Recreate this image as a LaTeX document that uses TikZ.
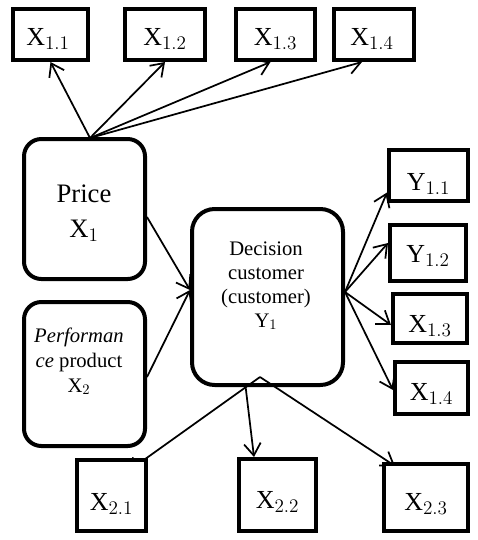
\documentclass[tikz,border=0pt]{standalone}
\usepackage{fontspec}
\setmainfont{Liberation Serif}
\usetikzlibrary{arrows.meta,calc}
\pgfdeclarelayer{background}
\pgfsetlayers{background,main}
\newcommand\mylines[2]{\vtop{\baselineskip=#1\lineskiplimit=-10pt\halign{\hfil##\hfil\cr#2\crcr}}}
\begin{document}
\begin{tikzpicture}[x=0.75pt,y=-0.75pt,
  sqbox/.style={draw,line width=3pt,inner sep=0pt,fill=white},
  rbox/.style={draw,line width=3pt,inner sep=0pt,rounded corners=13pt},
  lab/.style={anchor=base,inner sep=0pt,font=\fontsize{19.5}{22}\selectfont},
  arr/.style={line width=1.3pt,-{Straight Barb[length=9pt,width=12.5pt,line width=1.3pt]}}]
\useasboundingbox (0,0) rectangle (478,540);
% top boxes
\node[sqbox,minimum width=56.25pt,minimum height=38.25pt] (x11) at (50.5,34.5) {};
\node[sqbox,minimum width=60pt,minimum height=38.25pt] (x12) at (165,34.5) {};
\node[sqbox,minimum width=59.25pt,minimum height=38.25pt] (x13) at (275.5,34.5) {};
\node[sqbox,minimum width=60pt,minimum height=38.25pt] (x14) at (374,34.5) {};
\node[lab] (t11) at (48,45) {$\mathrm{X}_{1.1}$};
\node[lab] (t12) at (165,45) {$\mathrm{X}_{1.2}$};
\node[lab] (t13) at (275.5,45) {$\mathrm{X}_{1.3}$};
\node[lab] (t14) at (372,45) {$\mathrm{X}_{1.4}$};
% left rounded boxes
\node[rbox,minimum width=90.75pt,minimum height=105pt] (price) at (84.5,209) {};
\node[rbox,minimum width=90.75pt,minimum height=108pt] (perf) at (84.5,374) {};
\node[anchor=base,inner sep=0pt,font=\fontsize{20}{26}\selectfont] (pricet) at (84,202)
  {\mylines{26.25pt}{Price\cr$\mathrm{X}_{1}$}};
\node[anchor=base,inner sep=0pt,font=\fontsize{15.5}{18}\selectfont] (perft) at (79,342)
  {\mylines{18.75pt}{\textit{Performan}\cr\textit{ce} product\cr$\mathrm{X}_{2}$}};
% decision box
\node[rbox,rounded corners=17pt,minimum width=113.25pt,minimum height=132pt] (dec) at (267.5,297) {};
\node[anchor=base,inner sep=0pt,font=\fontsize{15.5}{18}\selectfont] (dect) at (266,255)
  {\mylines{18pt}{Decision\cr customer\cr (customer)\cr $\mathrm{Y}_{1}$}};
% right boxes
\node[sqbox,minimum width=59.25pt,minimum height=38.25pt] (y11) at (428.5,175.5) {};
\node[sqbox,minimum width=57pt,minimum height=42pt] (y12) at (428,253) {};
\node[sqbox,minimum width=55.5pt,minimum height=36.75pt] (x13r) at (430,318.5) {};
\node[sqbox,minimum width=54.75pt,minimum height=39pt] (x14r) at (431.5,388) {};
\node[lab] (ty11) at (428.5,190) {$\mathrm{Y}_{1.1}$};
\node[lab] (ty12) at (428,262) {$\mathrm{Y}_{1.2}$};
\node[lab] (tx13r) at (430,332) {$\mathrm{X}_{1.3}$};
\node[lab] (tx14r) at (431.5,400) {$\mathrm{X}_{1.4}$};
% bottom boxes
\node[sqbox,minimum width=51.75pt,minimum height=53.25pt] (x21) at (111.5,495.5) {};
\node[sqbox,minimum width=57.75pt,minimum height=54pt] (x22) at (277.5,495) {};
\node[sqbox,minimum width=63pt,minimum height=50.25pt] (x23) at (426,497.5) {};
\node[lab] (t21) at (111.5,510) {$\mathrm{X}_{2.1}$};
\node[lab] (t22) at (277.5,508) {$\mathrm{X}_{2.2}$};
\node[lab] (t23) at (426,510) {$\mathrm{X}_{2.3}$};
% connector points
\coordinate (ptop) at ($(price.north)+(5.5,1)$);
\coordinate (dright) at ($(dec.east)+(0,-5)$);
\coordinate (peak) at ($(dec.south)+(-7.5,-10)$);
\begin{pgfonlayer}{background}
\draw[arr] (ptop) -- (x11.south);
\draw[arr] (ptop) -- (x12.south);
\draw[arr] (ptop) -- ($(x13.south)+(-5,0)$);
\draw[arr] (ptop) -- ($(x14.south)+(-12,0)$);
\draw[arr] ($(price.east)+(0,8)$) -- ($(dec.west)+(0,-7)$);
\draw[arr] ($(perf.east)+(0,3)$) -- ($(dec.west)+(0,-7)$);
\draw[arr] (dright) -- ($(y11.west)+(0,17)$);
\draw[arr] (dright) -- ($(y12.west)+(0,-10)$);
\draw[arr] (dright) -- ($(x13r.west)+(0,6.5)$);
\draw[arr] (dright) -- ($(x14r.west)+(0,2)$);
\draw[arr] (peak) -- ($(x21.center)+(15.5,-23.5)$);
\draw[arr] ($(dec.south)+(-22,-1)$) -- ($(x22.north)+(-23.5,0)$);
\draw[arr] (peak) -- ($(x23.center)+(-31,-31.5)$);
\end{pgfonlayer}
\end{tikzpicture}
\end{document}
